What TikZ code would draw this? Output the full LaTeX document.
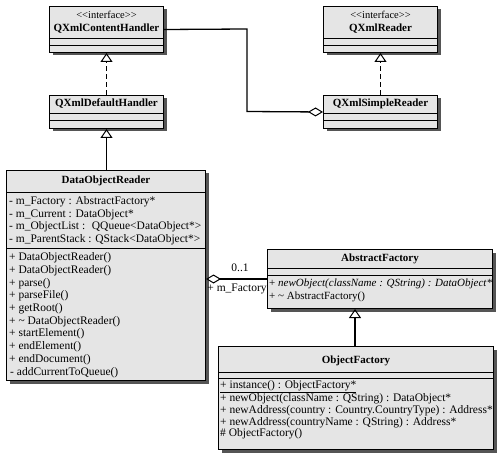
\documentclass[tikz,border=0pt]{standalone}
\usepackage{fontspec}
\setmainfont{Liberation Serif}
\usetikzlibrary{arrows.meta,shadows}
\definecolor{boxgray}{RGB}{229,229,229}
\definecolor{shadowgray}{RGB}{85,85,85}
\begin{document}
\begin{tikzpicture}[x=1pt,y=-1pt,
  cls/.style={draw=black, fill=boxgray, line width=1pt, inner sep=0pt, anchor=north west,
    general shadow={fill=shadowgray, shadow xshift=3pt, shadow yshift=-3pt}},
  sep/.style={line width=0.9pt},
  cname/.style={font=\fontsize{11}{12}\selectfont\bfseries, inner sep=0pt},
  stereo/.style={font=\fontsize{10.5}{12}\selectfont, inner sep=0pt},
  mem/.style={font=\fontsize{11.5}{12}\selectfont, inner sep=0pt, anchor=west},
  real/.style={line width=1.3pt, dash pattern=on 5pt off 3pt, -{Triangle[open,length=9pt,width=12pt,line width=1pt]}},
  inh/.style={line width=1.3pt, -{Triangle[open,length=9pt,width=12pt,line width=1pt]}},
  agg/.style={line width=1.3pt, {Diamond[open,length=15pt,width=9pt,line width=1pt]}-}
]
\useasboundingbox (0,0) rectangle (500,457);

% QXmlContentHandler
\node[cls, minimum width=114pt, minimum height=46pt] (cch) at (49,6) {};
\draw[sep] ([yshift=-32pt]cch.north west) -- ([yshift=-32pt]cch.north east);
\draw[sep] ([yshift=-39pt]cch.north west) -- ([yshift=-39pt]cch.north east);
\node[stereo] (cchs) at ([yshift=-9pt]cch.north) {{<}{<}interface{>}{>}};
\node[cname] (cchn) at ([yshift=-23pt]cch.north) {QXmlContentHandler};

% QXmlReader
\node[cls, minimum width=114pt, minimum height=46pt] (cxr) at (323,6) {};
\draw[sep] ([yshift=-32pt]cxr.north west) -- ([yshift=-32pt]cxr.north east);
\draw[sep] ([yshift=-39pt]cxr.north west) -- ([yshift=-39pt]cxr.north east);
\node[stereo] (cxrs) at ([yshift=-9pt]cxr.north) {{<}{<}interface{>}{>}};
\node[cname] (cxrn) at ([yshift=-23pt]cxr.north) {QXmlReader};

% QXmlDefaultHandler
\node[cls, minimum width=114pt, minimum height=33pt] (qdh) at (49,95) {};
\draw[sep] ([yshift=-18pt]qdh.north west) -- ([yshift=-18pt]qdh.north east);
\draw[sep] ([yshift=-25pt]qdh.north west) -- ([yshift=-25pt]qdh.north east);
\node[cname] (qdhn) at ([yshift=-9pt]qdh.north) {QXmlDefaultHandler};

% QXmlSimpleReader
\node[cls, minimum width=114pt, minimum height=33pt] (qsr) at (323,95) {};
\draw[sep] ([yshift=-18pt]qsr.north west) -- ([yshift=-18pt]qsr.north east);
\draw[sep] ([yshift=-25pt]qsr.north west) -- ([yshift=-25pt]qsr.north east);
\node[cname] (qsrn) at ([yshift=-9pt]qsr.north) {QXmlSimpleReader};

% DataObjectReader
\node[cls, minimum width=199pt, minimum height=210pt] (dor) at (6,170) {};
\draw[sep] ([yshift=-22pt]dor.north west) -- ([yshift=-22pt]dor.north east);
\draw[sep] ([yshift=-78pt]dor.north west) -- ([yshift=-78pt]dor.north east);
\node[cname] (dorn) at ([yshift=-11pt]dor.north) {DataObjectReader};
\node[mem] (dora1) at ([xshift=3pt,yshift=-32pt]dor.north west) {- m\_Factory : AbstractFactory*};
\node[mem] (dora2) at ([xshift=3pt,yshift=-44.5pt]dor.north west) {- m\_Current : DataObject*};
\node[mem] (dora3) at ([xshift=3pt,yshift=-57pt]dor.north west) {- m\_ObjectList : \ QQueue<DataObject*>};
\node[mem] (dora4) at ([xshift=3pt,yshift=-69.5pt]dor.north west) {- m\_ParentStack : QStack<DataObject*>};
\node[mem] (dorm1) at ([xshift=3pt,yshift=-88pt]dor.north west) {+ DataObjectReader()};
\node[mem] (dorm2) at ([xshift=3pt,yshift=-100.7pt]dor.north west) {+ DataObjectReader()};
\node[mem] (dorm3) at ([xshift=3pt,yshift=-113.4pt]dor.north west) {+ parse()};
\node[mem] (dorm4) at ([xshift=3pt,yshift=-126.1pt]dor.north west) {+ parseFile()};
\node[mem] (dorm5) at ([xshift=3pt,yshift=-138.8pt]dor.north west) {+ getRoot()};
\node[mem] (dorm6) at ([xshift=3pt,yshift=-151.5pt]dor.north west) {+ \textasciitilde{} DataObjectReader()};
\node[mem] (dorm7) at ([xshift=3pt,yshift=-164.2pt]dor.north west) {+ startElement()};
\node[mem] (dorm8) at ([xshift=3pt,yshift=-176.9pt]dor.north west) {+ endElement()};
\node[mem] (dorm9) at ([xshift=3pt,yshift=-189.6pt]dor.north west) {+ endDocument()};
\node[mem] (dorm10) at ([xshift=4pt,yshift=-202.3pt]dor.north west) {- addCurrentToQueue()};

% AbstractFactory
\node[cls, minimum width=225pt, minimum height=59pt] (af) at (267,249) {};
\draw[sep] ([yshift=-19pt]af.north west) -- ([yshift=-19pt]af.north east);
\draw[sep] ([yshift=-26pt]af.north west) -- ([yshift=-26pt]af.north east);
\node[cname] (afn) at ([yshift=-10pt]af.north) {AbstractFactory};
\node[mem, font=\fontsize{11}{12}\selectfont] (afm1) at ([xshift=2pt,yshift=-35pt]af.north west) {+ \textit{newObject(className : QString) : DataObject*}};
\node[mem, font=\fontsize{11}{12}\selectfont] (afm2) at ([xshift=2pt,yshift=-48pt]af.north west) {+ \textasciitilde{} AbstractFactory()};

% ObjectFactory
\node[cls, minimum width=275pt, minimum height=103pt] (of) at (218,346) {};
\draw[sep] ([yshift=-26pt]of.north west) -- ([yshift=-26pt]of.north east);
\draw[sep] ([yshift=-32pt]of.north west) -- ([yshift=-32pt]of.north east);
\node[cname] (ofn) at ([yshift=-15pt]of.north) {ObjectFactory};
\node[mem] (ofm1) at ([xshift=2pt,yshift=-41pt]of.north west) {\underline{+ instance() : ObjectFactory*}};
\node[mem] (ofm2) at ([xshift=2pt,yshift=-53pt]of.north west) {+ newObject(className : QString) : DataObject*};
\node[mem] (ofm3) at ([xshift=2pt,yshift=-65pt]of.north west) {+ newAddress(country : Country.CountryType) : Address*};
\node[mem] (ofm4) at ([xshift=2pt,yshift=-77pt]of.north west) {+ newAddress(countryName : QString) : Address*};
\node[mem] (ofm5) at ([xshift=2pt,yshift=-88pt]of.north west) {\# ObjectFactory()};

% connectors
\draw[real] (qdh.north) -- (cch.south);
\draw[real] (qsr.north) -- (cxr.south);
\draw[inh] (dor.north -| qdh.north) -- (qdh.south);
\draw[inh] (of.north -| 355,0) -- (af.south -| 355,0);
\coordinate (bend1) at (247,29);
\coordinate (bend2) at (247,111.5);
\draw[agg] (qsr.west) -- (bend2) -- (bend1) -- (cch.east);
\draw[agg] (dor.east |- af.west) -- (af.west);
\node[mem, anchor=center] (mult) at (240,268) {0..1};
\node[mem, anchor=center] (role) at (237,289) {+ m\_Factory};
\end{tikzpicture}
\end{document}
